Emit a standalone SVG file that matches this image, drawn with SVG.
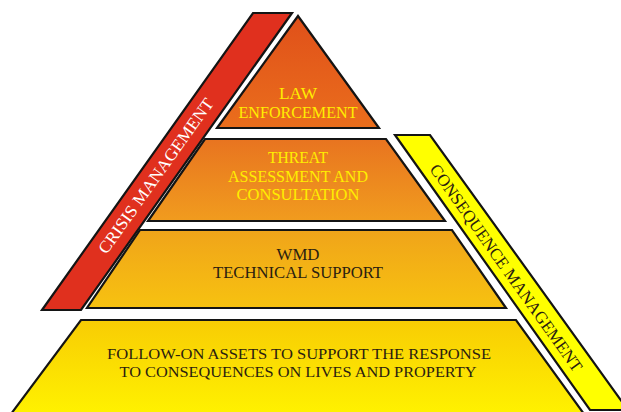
<svg xmlns="http://www.w3.org/2000/svg" width="621" height="412" viewBox="0 0 621 412">
  <style>
    .edge { stroke: #141414; stroke-width: 2.2; stroke-linejoin: miter; }
    .lbl { font-family: "Liberation Serif", "Times New Roman", serif; font-size: 17px; text-anchor: middle; }
    .sm { font-size: 15.5px; }
    .light { fill: #ffee00; }
    .dark { fill: #2a2010; }
    .white { fill: #ffffff; }
  </style>
  <defs>
    <linearGradient id="g1" x1="0" y1="0" x2="0" y2="1">
      <stop offset="0" stop-color="#e0501a"/>
      <stop offset="1" stop-color="#ea6e1c"/>
    </linearGradient>
    <linearGradient id="g2" x1="0" y1="0" x2="0" y2="1">
      <stop offset="0" stop-color="#e87420"/>
      <stop offset="1" stop-color="#f19c1e"/>
    </linearGradient>
    <linearGradient id="g3" x1="0" y1="0" x2="0" y2="1">
      <stop offset="0" stop-color="#f0a41a"/>
      <stop offset="1" stop-color="#f7c210"/>
    </linearGradient>
    <linearGradient id="g4" x1="0" y1="0" x2="0" y2="1">
      <stop offset="0" stop-color="#f8cc04"/>
      <stop offset="1" stop-color="#fff200"/>
    </linearGradient>
  </defs>
  <rect width="621" height="412" fill="#ffffff"/>

  <g id="crisis-management">
    <polygon class="edge" fill="#e0301e" points="253,13 292,13 81,310 42,310"/>
    <text class="lbl white" transform="translate(156,176) rotate(-54.6)" y="5.5" textLength="186" lengthAdjust="spacingAndGlyphs">CRISIS MANAGEMENT</text>
  </g>

  <g id="consequence-management">
    <polygon class="edge" fill="#ffff00" points="395,135 430,135 628,410 590,410"/>
    <text class="lbl dark" transform="translate(506,268) rotate(54.6)" y="5.5" textLength="250" lengthAdjust="spacingAndGlyphs">CONSEQUENCE MANAGEMENT</text>
  </g>

  <g id="law-enforcement">
    <polygon class="edge" fill="url(#g1)" points="298,16 379,128 217,128"/>
    <text class="lbl light" x="298" y="99" textLength="38" lengthAdjust="spacingAndGlyphs">LAW</text>
    <text class="lbl light" x="298" y="118" textLength="119" lengthAdjust="spacingAndGlyphs">ENFORCEMENT</text>
  </g>

  <g id="threat-assessment">
    <polygon class="edge" fill="url(#g2)" points="205,139 386,139 445,221 148,221"/>
    <text class="lbl light" x="298" y="163" textLength="60" lengthAdjust="spacingAndGlyphs">THREAT</text>
    <text class="lbl light" x="298" y="182" textLength="140" lengthAdjust="spacingAndGlyphs">ASSESSMENT AND</text>
    <text class="lbl light" x="298" y="200" textLength="123" lengthAdjust="spacingAndGlyphs">CONSULTATION</text>
  </g>

  <g id="wmd-technical-support">
    <polygon class="edge" fill="url(#g3)" points="140,230 452,230 506,308 87,308"/>
    <text class="lbl dark" x="298" y="260" textLength="43" lengthAdjust="spacingAndGlyphs">WMD</text>
    <text class="lbl dark" x="298" y="278" textLength="170" lengthAdjust="spacingAndGlyphs">TECHNICAL SUPPORT</text>
  </g>

  <g id="follow-on-assets">
    <polygon class="edge" fill="url(#g4)" points="81,320 516,320 584,414 11,414"/>
    <text class="lbl sm dark" x="299" y="359" textLength="384" lengthAdjust="spacingAndGlyphs">FOLLOW-ON ASSETS TO SUPPORT THE RESPONSE</text>
    <text class="lbl sm dark" x="298" y="377" textLength="357" lengthAdjust="spacingAndGlyphs">TO CONSEQUENCES ON LIVES AND PROPERTY</text>
  </g>

  <g id="connectors"></g>
</svg>
